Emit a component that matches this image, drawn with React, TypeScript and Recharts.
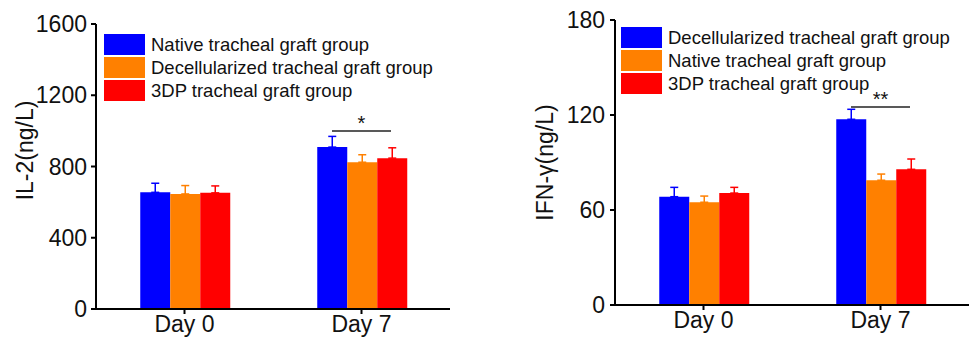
import { Bar, BarChart, ErrorBar, Legend, ReferenceLine, XAxis, YAxis } from 'recharts';

const FONT = '"Liberation Sans", Arial, sans-serif';

const days = ['Day 0', 'Day 7'];

// IL-2 (left panel)
const il2Native = [655, 909];
const il2NativeErr = [51, 60];
const il2Decell = [646, 824];
const il2DecellErr = [47, 42];
const il2Printed = [652, 847];
const il2PrintedErr = [39, 58];
const il2Ticks = [0, 400, 800, 1200, 1600];

// IFN-γ (right panel)
const ifnDecell = [68.4, 117.3];
const ifnDecellErr = [5.9, 6.3];
const ifnNative = [64.9, 78.8];
const ifnNativeErr = [3.9, 3.9];
const ifnPrinted = [70.7, 85.7];
const ifnPrintedErr = [3.6, 6.5];
const ifnTicks = [0, 60, 120, 180];

// group boundaries on the x axis (small ticks between groups)
const boundaryTicks = [1, 2];

// significance brackets: Day 7, first bar centre to third bar centre
const il2Sig = { from: 1 + 1 / 3, to: 1 + 2 / 3, y: 1000, mark: '*' };
const ifnSig = { from: 1 + 1 / 3, to: 1 + 2 / 3, y: 125, mark: '**' };

const BLUE = '#0000ff';
const ORANGE = '#ff8000';
const RED = '#ff0000';

const il2Data = days.map((day, i) => ({
  day,
  pos: i + 0.5,
  a: il2Native[i],
  aErr: [0, il2NativeErr[i]],
  b: il2Decell[i],
  bErr: [0, il2DecellErr[i]],
  c: il2Printed[i],
  cErr: [0, il2PrintedErr[i]],
}));

const ifnData = days.map((day, i) => ({
  day,
  pos: i + 0.5,
  a: ifnDecell[i],
  aErr: [0, ifnDecellErr[i]],
  b: ifnNative[i],
  bErr: [0, ifnNativeErr[i]],
  c: ifnPrinted[i],
  cErr: [0, ifnPrintedErr[i]],
}));

const renderLegend = (props: any) => {
  const { payload } = props;
  return (
    <div style={{ display: 'flex', flexDirection: 'column', gap: 2 }}>
      {payload.map((entry: any) => (
        <div key={entry.value} style={{ display: 'flex', alignItems: 'center', height: 21 }}>
          <span style={{ width: 41, height: 21, background: entry.color, marginRight: 6 }} />
          <span style={{ fontSize: 18.5, fontFamily: FONT, color: '#111', whiteSpace: 'nowrap' }}>
            {entry.value}
          </span>
        </div>
      ))}
    </div>
  );
};

const axisStroke = { stroke: '#000', strokeWidth: 2 };
const tickStyle = { fontSize: 23, fontFamily: FONT, fill: '#111' };

interface PanelProps {
  data: any[];
  names: string[];
  ticks: number[];
  label: string;
  sig: { from: number; to: number; y: number; mark: string };
  width: number;
  axisWidth: number;
  margin: { top: number; right: number; bottom: number; left: number };
  labelOffset: number;
  labelShift: number;
  legendPos: { left: number; top: number };
  tickMargin: number;
}

function Panel({ data, names, ticks, label, sig, width, axisWidth, margin, labelOffset, labelShift, legendPos, tickMargin }: PanelProps) {
  const colors = [BLUE, ORANGE, RED];
  const keys = ['a', 'b', 'c'];
  return (
    <BarChart width={width} height={340} data={data} margin={margin} barCategoryGap="25%" barGap={0}>
      <XAxis
        xAxisId="num"
        dataKey="pos"
        type="number"
        domain={[0, 2]}
        ticks={boundaryTicks}
        allowDataOverflow
        axisLine={false}
        tickLine={axisStroke}
        tickSize={3}
        tick={() => <g />}
        height={0}
      />
      <XAxis
        dataKey="day"
        axisLine={axisStroke}
        tickLine={axisStroke}
        tickSize={5}
        tick={tickStyle}
        height={30}
      />
      <YAxis
        domain={[ticks[0], ticks[ticks.length - 1]]}
        ticks={ticks}
        axisLine={axisStroke}
        tickLine={axisStroke}
        tickSize={5}
        tickMargin={tickMargin}
        tick={tickStyle}
        width={axisWidth}
        interval={0}
        label={{
          content: (p: any) => {
            const vb = p.viewBox;
            const x = vb.x + labelOffset;
            const y = vb.y + vb.height / 2 + labelShift;
            return (
              <text
                x={x}
                y={y}
                transform={`rotate(-90, ${x}, ${y})`}
                textAnchor="middle"
                dominantBaseline="central"
                fontSize={23}
                fontFamily={FONT}
                fill="#111"
              >
                {label}
              </text>
            );
          },
        }}
      />
      <Legend
        layout="vertical"
        align="center"
        verticalAlign="middle"
        itemSorter="dataKey"
        content={renderLegend}
        wrapperStyle={{ left: legendPos.left, top: legendPos.top, width: 'auto' }}
      />
      {keys.map((k, i) => (
        <Bar key={k} dataKey={k} name={names[i]} fill={colors[i]} isAnimationActive={false}>
          <ErrorBar dataKey={`${k}Err`} width={4} stroke={colors[i]} strokeWidth={1.5} direction="y" />
        </Bar>
      ))}
      <ReferenceLine
        xAxisId="num"
        ifOverflow="visible"
        segment={[
          { x: sig.from, y: sig.y },
          { x: sig.to, y: sig.y },
        ]}
        stroke="#222"
        strokeWidth={1.5}
        label={{ value: sig.mark, position: 'top', offset: 1, fontSize: 20, fontFamily: FONT, fill: '#111' }}
      />
    </BarChart>
  );
}

export default function App() {
  return (
    <div style={{ position: 'absolute', left: 0, top: 0, width: 973, height: 340, background: '#fff' }}>
      <div style={{ position: 'absolute', left: 0, top: 0 }}>
        <Panel
          data={il2Data}
          names={['Native tracheal graft group', 'Decellularized tracheal graft group', '3DP tracheal graft group']}
          ticks={il2Ticks}
          label="IL-2(ng/L)"
          sig={il2Sig}
          width={486}
          axisWidth={96}
          margin={{ top: 24, right: 36, bottom: 1, left: 0 }}
          labelOffset={25}
          labelShift={-16}
          legendPos={{ left: 104, top: 34 }}
          tickMargin={4}
        />
      </div>
      <div style={{ position: 'absolute', left: 486, top: 0 }}>
        <Panel
          data={ifnData}
          names={['Decellularized tracheal graft group', 'Native tracheal graft group', '3DP tracheal graft group']}
          ticks={ifnTicks}
          label="IFN-γ(ng/L)"
          sig={ifnSig}
          width={487}
          axisWidth={129}
          margin={{ top: 20, right: 4, bottom: 5, left: 0 }}
          labelOffset={59}
          labelShift={0}
          legendPos={{ left: 135, top: 27 }}
          tickMargin={5}
        />
      </div>
    </div>
  );
}
